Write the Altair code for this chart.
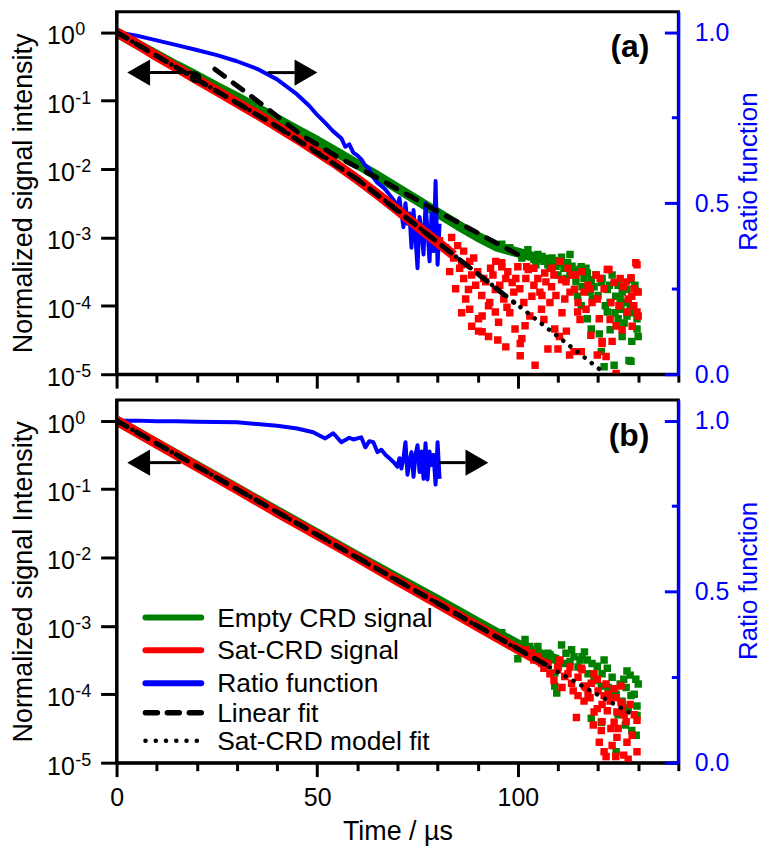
import altair as alt
import pandas as pd

FONT = "Liberation Sans"
GREEN = "#008000"
RED = "#ff0000"
BLUE = "#0000ff"
W, H = 564, 364

# ---------------- panel (a) values (time in us, log10 of normalized intensity) ----------------
A_GREEN_T = [0, 5, 10, 15, 20, 25, 30, 35, 40, 45, 50, 55, 60, 65, 70, 75, 80, 85, 90, 95, 100, 105, 110]
A_GREEN_LG = [0, -0.17, -0.33, -0.49, -0.64, -0.80, -0.95, -1.11, -1.27, -1.43, -1.59, -1.76, -1.93,
              -2.10, -2.28, -2.46, -2.64, -2.82, -2.99, -3.14, -3.22, -3.30, -3.36]
A_RED_T = [0, 5, 10, 15, 20, 25, 30, 35, 40, 45, 50, 55, 60, 65, 70, 75, 80, 84]
A_RED_LG = [0, -0.17, -0.35, -0.52, -0.69, -0.86, -1.03, -1.20, -1.38, -1.56, -1.75, -1.94, -2.15,
            -2.37, -2.60, -2.84, -3.07, -3.26]

A_RED_PTS_T = [80.5, 82, 83.5, 84, 85, 86, 86.5, 87.7, 88, 88.5, 89, 90.2, 90.2, 91.1, 91.1, 91.5, 92.7,
               92.7, 93.2, 94.4, 94.4, 95.2, 96, 96, 97.3, 98.6, 99.3, 100, 100.6, 100.6, 101, 101.8,
               102.2, 102.6, 103.5, 104.3, 105, 105.9, 106.7, 107.5, 108, 108.4, 109.2, 110, 110.4,
               110.9, 111.7, 112.1, 112.9, 113.5, 114.1, 114, 114.9, 115.8, 116.5, 117, 118.2, 119.8,
               119.8, 120.3, 121, 121, 122, 122.3, 122.7, 123.2, 123.5, 124, 124.5, 124.5, 125.2, 126.4,
               127.2, 127.5, 128.2, 128.4, 128.9, 129.4, 129.7, 129.7, 130, 97, 99, 104, 106, 109, 112,
               115, 118, 120.5,
               85.5, 86.5, 87, 88, 89.5, 90, 91, 92, 93, 93.8, 94.5, 95.5, 96.5, 97.5, 98, 99.5, 100.5,
               101.5, 102, 103, 104, 105.5, 106.5, 107, 108.5, 109.5, 110.5, 111, 112.5, 113, 114.5,
               115.5, 116, 117.5, 118.5, 119.5, 121.5, 123, 125.5, 126, 127, 128.5, 129, 130, 83, 84.5,
               86, 88.5, 95, 97]
A_RED_PTS_LG = [-3.05, -3.15, -3.0, -3.3, -3.12, -3.4, -3.2, -3.76, -3.35, -3.55, -3.3, -4.19, -4.37,
                -4.38, -4.15, -3.6, -4.0, -4.45, -3.45, -4.09, -3.76, -4.24, -3.43, -3.37, -4.02, -3.66,
                -4.34, -3.43, -4.73, -4.55, -4.48, -4.29, -3.43, -3.47, -3.86, -4.87, -3.6, -4.05, -3.52,
                -4.63, -3.95, -3.72, -4.34, -4.63, -4.45, -3.62, -3.9, -4.37, -4.72, -3.55, -3.76, -4.67,
                -4.09, -4.67, -3.8, -4.05, -4.43, -3.9, -4.72, -4.19, -4.52, -4.55, -4.74, -3.47, -3.47,
                -3.95, -4.52, -3.66, -4.29, -4.99, -4.0, -3.72, -4.09, -3.9, -3.59, -3.86, -4.0, -3.37,
                -4.09, -3.4, -3.8, -3.6, -3.8, -3.7, -3.85, -3.55, -3.65, -3.95, -3.75, -3.6,
                -3.45, -3.6, -3.9, -4.05, -3.7, -3.5, -3.85, -3.65, -3.95, -3.55, -3.35, -3.7, -3.9,
                -3.5, -4.1, -3.6, -3.75, -3.95, -3.6, -4.15, -3.45, -3.8, -4.2, -3.65, -3.45, -3.85,
                -3.35, -4.1, -3.45, -3.8, -3.55, -4.2, -3.5, -3.7, -3.95, -3.55, -3.75, -4.2, -3.6,
                -4.35, -3.65, -4.3, -3.75, -4.15, -3.5, -3.75, -4.1, -4.3, -4.5, -4.6]

A_GREEN_PTS_T = [100, 101, 102.5, 104, 105, 106, 107.5, 108.5, 110.9, 111.5, 112.4, 113, 114.1, 115.8,
                 116.5, 117.3, 118.3, 118.6, 119, 120.3, 120.8, 120.8, 121.5, 122.3, 123, 124, 124.4,
                 124.7, 125.7, 126, 127.2, 127.2, 127.7, 128.2, 128.4, 128.2, 129.7, 129.7, 129.7, 118.3,
                 117.3, 114.9, 115.8, 122.3, 125, 113, 109, 103, 98, 96,
                 104.5, 106.5, 108, 109.5, 110, 111, 112, 113.5, 114.5, 115, 116, 117, 118, 119.5, 120,
                 121, 121.8, 122.8, 123.5, 124.2, 125, 125.5, 126.5, 127, 128, 128.8, 129.2, 130, 126, 123]
A_GREEN_PTS_LG = [-3.22, -3.3, -3.18, -3.32, -3.25, -3.28, -3.4, -3.3, -3.29, -3.45, -3.37, -3.55, -3.47,
                  -3.43, -3.6, -3.52, -3.62, -3.9, -3.72, -4.41, -3.66, -4.67, -4.89, -3.76, -3.95, -4.87,
                  -3.86, -4.29, -4.05, -3.8, -4.15, -3.76, -4.8, -3.62, -4.52, -4.81, -4.19, -3.79, -4.34,
                  -4.34, -4.19, -3.86, -4.0, -4.09, -4.19, -3.25, -3.35, -3.28, -3.15, -3.1,
                  -3.4, -3.35, -3.45, -3.42, -3.55, -3.38, -3.6, -3.42, -3.65, -3.5, -3.72, -3.45, -3.8,
                  -3.55, -3.85, -3.6, -4.0, -3.7, -3.55, -4.1, -3.7, -3.9, -4.25, -3.95, -4.0, -4.1, -3.7,
                  -4.45, -4.45, -4.35]

A_RATIO_T = [0, 5, 10, 15, 20, 25, 30, 35, 40, 45, 48, 50, 52, 54, 56, 57, 58, 59, 60, 61, 62, 63, 64, 65,
             66, 67, 68, 69, 70, 70.5, 71, 71.5, 72, 72.5, 73, 73.5, 74, 74.5, 75, 75.5, 76, 76.5, 77,
             77.5, 78, 78.5, 79, 79.5, 80, 80.5]
A_RATIO = [1.0, 0.99, 0.976, 0.962, 0.948, 0.933, 0.915, 0.893, 0.862, 0.818, 0.785, 0.758, 0.735, 0.71,
           0.69, 0.665, 0.672, 0.648, 0.64, 0.628, 0.61, 0.6, 0.575, 0.56, 0.55, 0.54, 0.525, 0.51, 0.49,
           0.515, 0.47, 0.43, 0.5, 0.44, 0.47, 0.37, 0.48, 0.40, 0.31, 0.46, 0.42, 0.35, 0.50, 0.42, 0.33,
           0.47, 0.36, 0.565, 0.32, 0.44]

A_RED_FIT_T = [0, 20, 40, 60, 80, 99]
A_RED_FIT_LG = [0, -0.69, -1.38, -2.15, -3.07, -3.95]
A_GREEN_FIT_T = [24.5, 35, 46, 55, 65, 80, 100]
A_GREEN_FIT_LG = [-0.54, -1.0, -1.5, -1.82, -2.13, -2.62, -3.25]
A_MODEL_T = [0, 10, 20, 30, 40, 50, 60, 70, 80, 90, 100, 110, 121.5]
A_MODEL_LG = [0, -0.35, -0.69, -1.03, -1.38, -1.75, -2.15, -2.6, -3.07, -3.53, -3.99, -4.45, -4.98]

A_ARROW_T0 = [19.7, 37.7]
A_ARROW_T1 = [8.1, 44.4]
A_ARROW_LG = -0.59
A_HEAD_T = [5.5, 47.2]
A_DOT_T, A_DOT_LG = 19.7, -0.66

# ---------------- panel (b) values ----------------
B_GREEN_T = [0, 10, 20, 30, 40, 50, 60, 70, 80, 90, 100, 105, 110]
B_GREEN_LG = [0, -0.33, -0.66, -0.99, -1.32, -1.65, -1.98, -2.30, -2.62, -2.95, -3.27, -3.40, -3.50]
B_RED_T = [0, 10, 20, 30, 40, 50, 60, 70, 80, 90, 100, 105, 108]
B_RED_LG = [0, -0.335, -0.67, -1.0, -1.34, -1.67, -2.0, -2.34, -2.67, -3.01, -3.34, -3.5, -3.6]

B_RED_PTS_T = [107.5, 109.9, 111.7, 113.4, 114.6, 115, 115.8, 116.6, 118.3, 119, 119.8, 119.8, 120.3,
               120.8, 121.5, 121.5, 122, 122.3, 123.2, 124, 124, 124.4, 124.7, 124.7, 125.7, 125.7, 126.4,
               127.2, 129.7, 129.7, 116, 113, 117.5, 122.5, 126.5, 128, 110.5, 105, 102, 106.5, 100.5, 103.5,
               104, 106, 108, 109, 110, 111, 112.5, 113.8, 115, 116.5, 117, 118, 119, 120, 121, 122, 123,
               124.5, 125, 126, 127, 128.5, 129, 123.5, 121, 127.5, 118.8]
B_RED_PTS_LG = [-3.55, -3.64, -3.74, -3.84, -4.34, -4.02, -3.62, -3.88, -3.84, -4.26, -3.78, -4.21, -4.7,
                -4.53, -4.02, -4.84, -4.91, -4.24, -4.5, -3.92, -4.41, -4.91, -4.26, -4.63, -3.88, -4.12,
                -4.89, -4.7, -4.84, -4.38, -3.64, -3.6, -4.0, -4.0, -4.3, -4.15, -3.5, -3.45, -3.35, -3.62,
                -3.35, -3.4,
                -3.5, -3.55, -3.7, -3.8, -3.6, -3.9, -3.7, -3.95, -3.75, -4.1, -3.9, -4.05, -3.7, -3.95,
                -4.15, -3.85, -4.1, -4.05, -4.5, -4.2, -4.4, -4.6, -4.3, -4.75, -4.4, -4.95, -4.45]
B_GREEN_PTS_T = [100, 101.8, 105, 106.7, 109.2, 109.7, 109.2, 110.9, 111.7, 113.4, 114, 115.5, 116.6,
                 117.3, 118.3, 119.8, 120.8, 120.8, 122.3, 123, 124.5, 126.4, 127.2, 128.2, 128.4, 129.4,
                 129.7, 129.7, 103, 107.5, 98, 96,
                 104, 106, 108, 110, 112, 113, 115, 116, 117.5, 118.5, 119, 121, 121.5, 122.5, 123.5, 124.5,
                 125.5, 126, 127, 128, 129, 130, 125, 127.5, 129.5, 126.8]
B_GREEN_PTS_LG = [-3.48, -3.2, -3.3, -3.45, -3.88, -3.98, -3.69, -3.28, -3.55, -3.35, -3.45, -3.5, -3.38,
                  -3.5, -4.35, -3.59, -3.88, -4.41, -3.62, -4.02, -4.84, -3.78, -3.66, -4.02, -4.53, -3.78,
                  -4.17, -4.31, -3.3, -3.4, -3.22, -3.1,
                  -3.4, -3.5, -3.42, -3.6, -3.4, -3.52, -3.6, -3.45, -3.7, -3.55, -3.8, -3.7, -3.5, -3.9,
                  -3.75, -4.0, -3.85, -4.1, -3.9, -3.72, -4.0, -3.85, -4.3, -4.2, -4.6, -4.45]

B_RATIO_T = [0, 5, 10, 15, 20, 25, 30, 35, 40, 45, 49, 52, 54, 56, 58, 59, 61, 62, 63, 64, 65, 66, 67, 68,
             69, 70, 70.5, 71, 71.5, 72, 72.5, 73, 73.5, 74, 74.5, 75, 75.5, 76, 76.5, 77, 77.5, 78, 78.5,
             79, 79.5, 80, 80.5]
B_RATIO = [1.0, 1.0, 0.998, 0.998, 0.997, 0.996, 0.995, 0.99, 0.985, 0.977, 0.966, 0.948, 0.963, 0.937,
           0.95, 0.945, 0.951, 0.922, 0.94, 0.937, 0.908, 0.915, 0.9, 0.89, 0.879, 0.865, 0.89, 0.86,
           0.891, 0.937, 0.842, 0.88, 0.908, 0.836, 0.9, 0.928, 0.85, 0.91, 0.83, 0.934, 0.828, 0.91,
           0.87, 0.9, 0.813, 0.937, 0.83]

B_LIN_FIT_T = [0, 107]
B_LIN_FIT_LG = [0, -3.57]
B_MODEL_T = [0, 128.4]
B_MODEL_LG = [0, -4.29]

B_ARROW_T0 = [16.0, 80.4]
B_ARROW_T1 = [8.1, 87.0]
B_ARROW_LG = -0.613
B_HEAD_T = [5.5, 89.8]

DECADE_EXP = [0, -1, -2, -3, -4, -5]
LEGEND_LABELS = ["Empty CRD signal", "Sat-CRD signal", "Ratio function", "Linear fit", "Sat-CRD model fit"]

# ---------------- scales / axes ----------------
X_SCALE = alt.Scale(domain=[0, 140], nice=False, zero=False)
LOG_SCALE = alt.Scale(type="log", domain=[1e-5, 2.0], nice=False)
RATIO_SCALE = alt.Scale(domain=[0, 1.06], nice=False, zero=False)


def sig(t, lg):
    return pd.DataFrame({"t": t, "v": [10 ** x for x in lg]})


def x_axis(labels):
    kw = dict(values=list(range(0, 141, 10)),
              tickSize={"condition": {"test": "datum.value % 50 === 0", "value": 14}, "value": 8},
              tickWidth=3, tickColor="black", domainColor="black", domainWidth=3, grid=False, zindex=1)
    if labels:
        kw.update(title="Time / µs", labelExpr="datum.value % 50 === 0 ? datum.label : ''",
                  labelFont=FONT, labelFontSize=25, labelColor="black", labelPadding=9,
                  labelFlush=False, labelOverlap=False,
                  titleFont=FONT, titleFontSize=27, titleFontWeight="normal", titleColor="black",
                  titlePadding=8)
    else:
        kw.update(title=None, labels=False)
    return alt.Axis(**kw)


def y_axis(title):
    return alt.Axis(values=[10 ** e for e in DECADE_EXP], labels=False, tickSize=16, tickWidth=3,
                    tickColor="black", domainColor="black", domainWidth=3, grid=False,
                    title=title, titleFont=FONT, titleFontSize=27, titleFontWeight="normal",
                    titleColor="black", titleAngle=270, titleX=-85.5, titleY=H / 2,
                    titleBaseline="alphabetic", titleAlign="center", zindex=1)


def ratio_axis(title_y):
    return alt.Axis(orient="right", values=[0, 0.5, 1.0], format=".1f", ticks=False, tickSize=0,
                    labelPadding=16, labelFont=FONT, labelFontSize=25, labelColor=BLUE,
                    domainColor=BLUE, domainWidth=3, grid=False,
                    title="Ratio function", titleColor=BLUE, titleFont=FONT, titleFontSize=26,
                    titleFontWeight="normal", titleAngle=270, titleX=78, titleY=title_y,
                    titleBaseline="alphabetic", titleAlign="center", zindex=2)


RATIO_TICK_AXIS = alt.Axis(orient="left", offset=-W, values=[0, 0.25, 0.5, 0.75, 1.0], labels=False,
                           domain=False, title=None, grid=False, tickColor=BLUE, tickWidth=3,
                           tickSize={"condition": {"test": "datum.value === 0 || datum.value === 0.5 || datum.value === 1",
                                                   "value": 14}, "value": 7},
                           zindex=2)


def panel(d, tag, ytitle, xlabels, ratio_title_y, legend):
    XA = x_axis(xlabels)
    X = alt.X("t:Q", scale=X_SCALE, axis=XA)
    YL = alt.Y("v:Q", scale=LOG_SCALE, axis=y_axis(ytitle))
    YN = alt.Y("v:Q", scale=LOG_SCALE, axis=None)

    green = alt.layer(
        alt.Chart(sig(*d["green"])).mark_line(color=GREEN, strokeWidth=10, strokeJoin="round", clip=True)
        .encode(x=X, y=YL),
        alt.Chart(sig(*d["green_pts"])).mark_square(color=GREEN, size=56, opacity=1, clip=True)
        .encode(x=X, y=YL),
    )

    rdf = pd.DataFrame({"t": d["ratio"][0], "r": d["ratio"][1]})
    ratio = alt.Chart(rdf).mark_line(color=BLUE, strokeWidth=4, strokeJoin="round", clip=True).encode(
        x=X, y=alt.Y("r:Q", scale=RATIO_SCALE, axis=ratio_axis(ratio_title_y)))
    ratio_ticks = alt.Chart(rdf).mark_line(opacity=0).encode(
        x=X, y=alt.Y("r:Q", scale=RATIO_SCALE, axis=RATIO_TICK_AXIS))

    arrows = pd.DataFrame({"t0": d["arrow_t0"], "t1": d["arrow_t1"],
                           "v": [10 ** d["arrow_lg"]] * len(d["arrow_t0"])})
    heads_l = pd.DataFrame({"t": [d["head_t"][0]], "v": [10 ** d["arrow_lg"]]})
    heads_r = pd.DataFrame({"t": [d["head_t"][1]], "v": [10 ** d["arrow_lg"]]})

    dec = pd.DataFrame({"v": [10 ** e for e in DECADE_EXP], "base": ["10"] * len(DECADE_EXP),
                        "exp": [str(e) for e in DECADE_EXP]})

    layers = [
        alt.Chart(sig(*d["red"])).mark_line(color=RED, strokeWidth=10, strokeJoin="round", clip=True)
        .encode(x=X, y=YN),
        alt.Chart(sig(*d["red_pts"])).mark_square(color=RED, size=56, opacity=1, clip=True)
        .encode(x=X, y=YN),
    ]
    for (ft, flg) in d["lin_fits"]:
        layers.append(alt.Chart(sig(ft, flg)).mark_line(color="black", strokeWidth=5, strokeDash=[12, 11],
                                                          strokeCap="round", clip=True).encode(x=X, y=YN))
    layers.append(alt.Chart(sig(*d["model"])).mark_line(color="black", strokeWidth=4.5, strokeDash=[0.1, 9],
                                                         strokeCap="round", clip=True).encode(x=X, y=YN))
    layers.append(alt.Chart(arrows).mark_rule(color="black", strokeWidth=3).encode(
        x=alt.X("t0:Q", scale=X_SCALE, axis=XA), x2="t1:Q", y=YN))
    layers.append(alt.Chart(heads_l).mark_point(shape="triangle-left", filled=True, size=700, color="black",
                                                opacity=1).encode(x=X, y=YN))
    layers.append(alt.Chart(heads_r).mark_point(shape="triangle-right", filled=True, size=700, color="black",
                                                opacity=1).encode(x=X, y=YN))
    if d.get("dot") is not None:
        layers.append(alt.Chart(sig([d["dot"][0]], [d["dot"][1]])).mark_circle(size=130, color="black", opacity=1)
                      .encode(x=X, y=YN))
    layers.append(alt.Chart(dec).mark_text(font=FONT, fontSize=25, align="right", baseline="alphabetic",
                                           dy=12, color="black")
                  .encode(x=alt.value(-42), y=YN, text="base:N"))
    layers.append(alt.Chart(dec).mark_text(font=FONT, fontSize=18, align="left", baseline="alphabetic",
                                           dy=3, color="black")
                  .encode(x=alt.value(-41.5), y=YN, text="exp:N"))
    layers.append(alt.Chart(pd.DataFrame({"label": [tag]})).mark_text(
        font=FONT, fontSize=32, fontWeight="bold", align="right", baseline="alphabetic", color="black")
        .encode(x=alt.value(535), y=alt.value(46), text="label:N"))

    if legend:
        rows = [218.3, 251.2, 284.2, 313.8, 341.9]
        styles = [dict(color=GREEN, strokeWidth=6, strokeCap="round"),
                  dict(color=RED, strokeWidth=6, strokeCap="round"),
                  dict(color=BLUE, strokeWidth=6, strokeCap="round"),
                  dict(color="black", strokeWidth=5.5, strokeCap="round", strokeDash=[12, 10]),
                  dict(color="black", strokeWidth=4.5, strokeCap="round", strokeDash=[0.1, 10.2])]
        for lab, yy, st in zip(LEGEND_LABELS, rows, styles):
            one = pd.DataFrame({"label": [lab]})
            layers.append(alt.Chart(one).mark_rule(**st).encode(
                x=alt.value(29), x2=alt.value(85), y=alt.value(yy)))
            layers.append(alt.Chart(one).mark_text(font=FONT, fontSize=26.5, align="left", baseline="alphabetic",
                                                   color="black")
                          .encode(x=alt.value(101), y=alt.value(yy + 9), text="label:N"))

    front = alt.layer(*layers)
    return alt.layer(green, ratio, ratio_ticks, front).resolve_scale(y="independent").properties(
        width=W, height=H)


data_a = dict(
    green=(A_GREEN_T, A_GREEN_LG), red=(A_RED_T, A_RED_LG),
    green_pts=(A_GREEN_PTS_T, A_GREEN_PTS_LG), red_pts=(A_RED_PTS_T, A_RED_PTS_LG),
    ratio=(A_RATIO_T, A_RATIO),
    lin_fits=[(A_RED_FIT_T, A_RED_FIT_LG), (A_GREEN_FIT_T, A_GREEN_FIT_LG)],
    model=(A_MODEL_T, A_MODEL_LG),
    arrow_t0=A_ARROW_T0, arrow_t1=A_ARROW_T1, arrow_lg=A_ARROW_LG, head_t=A_HEAD_T,
    dot=(A_DOT_T, A_DOT_LG),
)
data_b = dict(
    green=(B_GREEN_T, B_GREEN_LG), red=(B_RED_T, B_RED_LG),
    green_pts=(B_GREEN_PTS_T, B_GREEN_PTS_LG), red_pts=(B_RED_PTS_T, B_RED_PTS_LG),
    ratio=(B_RATIO_T, B_RATIO),
    lin_fits=[(B_LIN_FIT_T, B_LIN_FIT_LG)],
    model=(B_MODEL_T, B_MODEL_LG),
    arrow_t0=B_ARROW_T0, arrow_t1=B_ARROW_T1, arrow_lg=B_ARROW_LG, head_t=B_HEAD_T,
    dot=None,
)

pa = panel(data_a, "(a)", "Normalized signal intensity", False, 160, False)
pb = panel(data_b, "(b)", "Normalized signal Intensity", True, 181, True)

chart = alt.vconcat(pa, pb, spacing=5, padding=0).configure_view(stroke="black", strokeWidth=3)

chart.save("out.html", embed_options={"renderer": "svg", "actions": False})
